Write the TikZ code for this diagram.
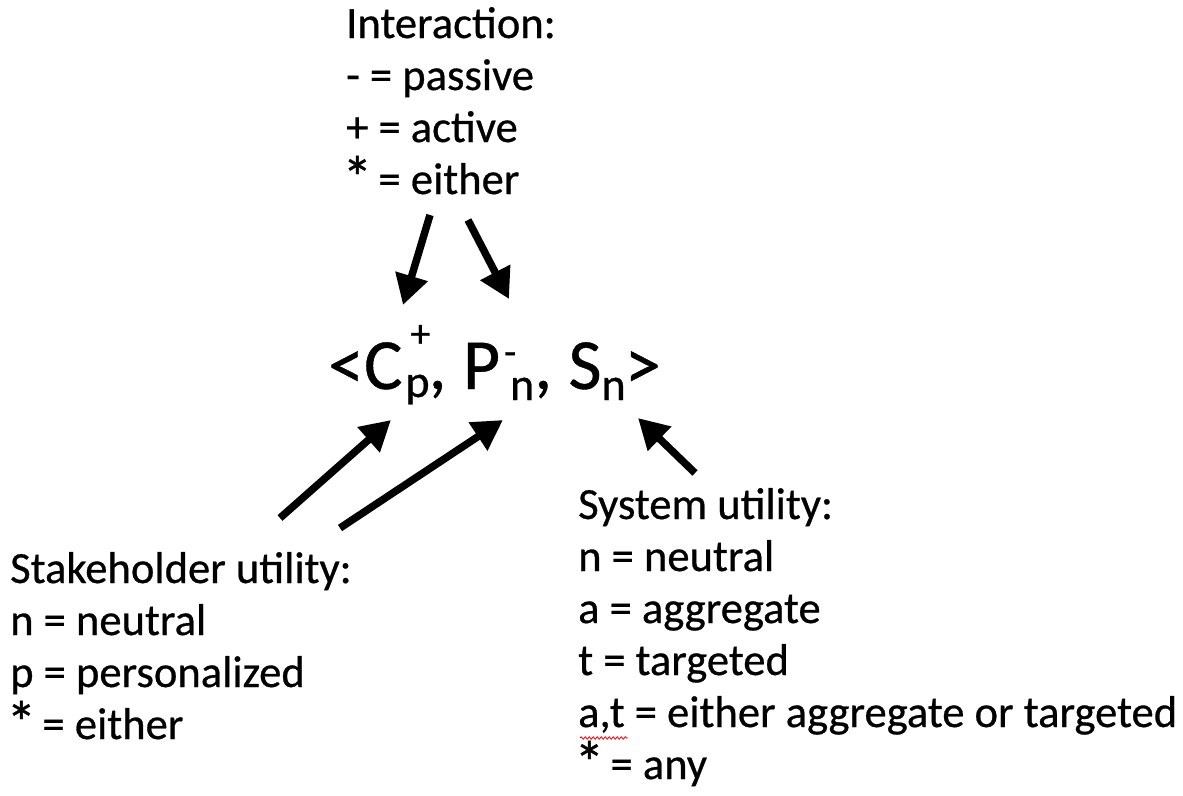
\documentclass[tikz,border=0pt]{standalone}
\usepackage{fontspec}
\setmainfont{Carlito}[FakeBold=0.6]
\newfontfamily\heavy{Carlito}[FakeBold=0.6]
\usetikzlibrary{arrows.meta,decorations.pathmorphing}
\newcommand{\supsubx}[4]{\makebox[0pt][l]{\raisebox{#3}{\fontsize{40}{40}\selectfont #1}}\raisebox{#4}{\fontsize{46}{46}\selectfont #2}}
\newcommand{\subx}[2]{\raisebox{#2}{\fontsize{46}{46}\selectfont #1}}
\newcommand{\bast}{\makebox[0.5em]{\raisebox{-4.5pt}{\scalebox{1.35}{*}}}}
\begin{document}
\begin{tikzpicture}[x=1pt,y=-1pt,
  txt/.style={font=\heavy\fontsize{44.6}{52}\selectfont, inner sep=0pt, anchor=base west},
  big/.style={font=\heavy\fontsize{72}{80}\selectfont, inner sep=0pt, anchor=base west},
  arr/.style={line width=7.5pt, -{Triangle[length=30pt,width=32pt]}},
  squig/.style={red, line width=0.8pt, decorate, decoration={snake, amplitude=1.2pt, segment length=4pt}}]
\useasboundingbox (0,0) rectangle (1183,795);
% Interaction block
\node[txt] (i1) at (346,38) {Interaction:};
\node[txt] (i2) at (346,90) {- = passive};
\node[txt] (i3) at (346,142) {+ = active};
\node[txt] (i4) at (346,194) {\bast{} = either};
% formula
\node[big] (f) at (328,389) {<C\hspace{3pt}\supsubx{\hspace{5pt}+}{p}{42pt}{-8pt}\hspace{-1pt}, P\hspace{2pt}\supsubx{\hspace{2pt}-}{\hspace{8pt}n}{24pt}{-11pt}\hspace{0pt}, S\subx{n}{-11pt}\hspace{-1pt}>};
% stakeholder block
\node[txt] (s1) at (10,583) {Stakeholder utility:};
\node[txt] (s2) at (10,635) {n = neutral};
\node[txt] (s3) at (10,687) {p = personalized};
\node[txt] (s4) at (10,739) {\bast{} = either};
% system block
\node[txt] (y1) at (578,519) {System utility:};
\node[txt] (y2) at (578,571) {n = neutral};
\node[txt] (y3) at (578,623) {a = aggregate};
\node[txt] (y4) at (578,675) {t = targeted};
\node[txt] (y5) at (578,727) {a,t = either aggregate or targeted};
\node[txt] (y6) at (578,779) {\bast{} = any};
% squiggle
\coordinate (sqA) at (580,738);
\coordinate (sqB) at (628,738);
\draw[squig] (sqA) -- (sqB);
% arrow coordinates
\coordinate (tD) at (430,215); \coordinate (hD) at (403,305);
\coordinate (tE) at (468,220); \coordinate (hE) at (509,299);
\coordinate (tA) at (280,518); \coordinate (hA) at (391,420);
\coordinate (tB) at (340,528); \coordinate (hB) at (503,420);
\coordinate (tC) at (695,473); \coordinate (hC) at (638,418);
\draw[arr] (tD) -- (hD);
\draw[arr] (tE) -- (hE);
\draw[arr] (tA) -- (hA);
\draw[arr] (tB) -- (hB);
\draw[arr] (tC) -- (hC);
\end{tikzpicture}
\end{document}
